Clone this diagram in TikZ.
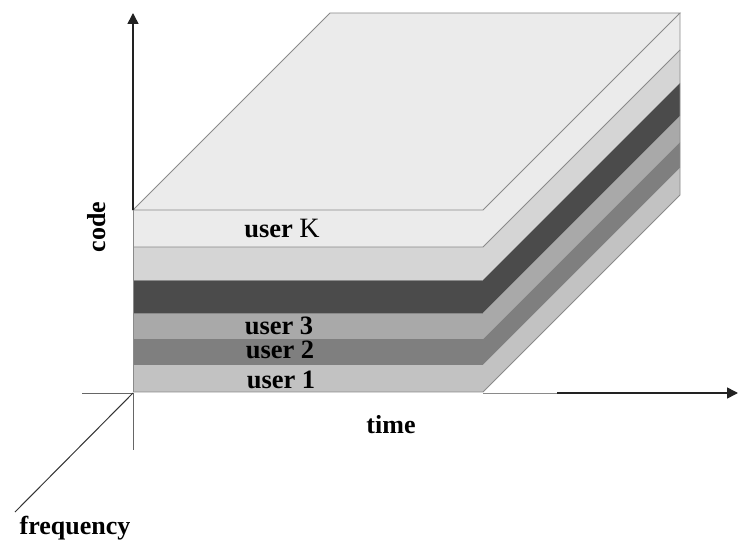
\documentclass[tikz,border=0pt]{standalone}
\usepackage{fontspec}
\setmainfont{Liberation Serif}
\usetikzlibrary{arrows.meta}
\definecolor{ctop}{HTML}{EBEBEB}
\definecolor{cK}{HTML}{EBEBEB}
\definecolor{cL2}{HTML}{D5D5D5}
\definecolor{cDark}{HTML}{4B4B4B}
\definecolor{cU3}{HTML}{A9A9A9}
\definecolor{cU2}{HTML}{7F7F7F}
\definecolor{cU1}{HTML}{C2C2C2}
\definecolor{cEdge}{HTML}{8A8A8A}
\definecolor{cAxis}{HTML}{222222}
\begin{document}
\begin{tikzpicture}[x=1pt,y=-1pt,
  edge/.style={draw=cEdge,line width=0.9pt},
  axisline/.style={draw=cAxis,line width=1.6pt},
  axisgray/.style={draw=black!60,line width=1pt},
  arrowtip/.style={-{Triangle[length=11pt,width=11pt]}},
  lbl/.style={font=\fontsize{26.5}{30}\selectfont\bfseries,anchor=base,inner sep=0pt},
  axlbl/.style={font=\fontsize{26}{30}\selectfont\bfseries,anchor=base,inner sep=0pt}]
\useasboundingbox (0,0) rectangle (739,543);
% coordinates
\coordinate (O) at (133,393);
\coordinate (codeTip) at (133,13);
\coordinate (boxTopL) at (133,210);
\coordinate (belowO) at (133,450);
\coordinate (leftO) at (82,393);
\coordinate (timeStart) at (557,393);
\coordinate (timeTip) at (738,393);
\coordinate (freqEnd) at (15,512);
% layers: top y, bottom y, colour
\foreach \yt/\yb/\c in {210/247/cK,247/280/cL2,280/313/cDark,313/339/cU3,339/365/cU2,365/392/cU1}{
  \fill[\c] (133,\yt) rectangle (483,\yb);
  \fill[\c] (483,\yt) -- (680,\yt-197) -- (680,\yb-197) -- (483,\yb) -- cycle;
}
% top face
\fill[ctop] (133,210) -- (330,13) -- (680,13) -- (483,210) -- cycle;
\draw[edge] (133,210) -- (330,13) -- (680,13) -- (483,210) -- cycle;
% layer edges
\draw[edge] (133,247) -- (483,247) -- (680,50);
\draw[edge,line width=0.6pt] (133,280) -- (483,280);
\draw[edge,line width=0.6pt] (133,313) -- (483,313);
\draw[edge] (680,13) -- (680,195) -- (483,392) -- (133,392);
\draw[edge] (133,210) -- (133,392);
% axes
\draw[axisline,arrowtip] (boxTopL) -- (codeTip);
\draw[axisgray] (O) -- (belowO);
\draw[axisgray] (leftO) -- (O);
\draw[edge] (483,393) -- (timeStart);
\draw[axisline,arrowtip] (timeStart) -- (timeTip);
\draw[draw=black!80,line width=1pt] (O) -- (freqEnd);
% labels
\node[lbl] (uK) at (282,237) {user \mdseries\fontsize{28}{30}\selectfont K};
\node[lbl] (u3) at (279,334) {user 3};
\node[lbl] (u2) at (280,358) {user 2};
\node[lbl] (u1) at (281,388) {user 1};
\node[axlbl] (time) at (391,433) {time};
\node[axlbl] (freq) at (75,534) {frequency};
\node[axlbl,rotate=90] (code) at (105,227) {code};
\end{tikzpicture}
\end{document}
